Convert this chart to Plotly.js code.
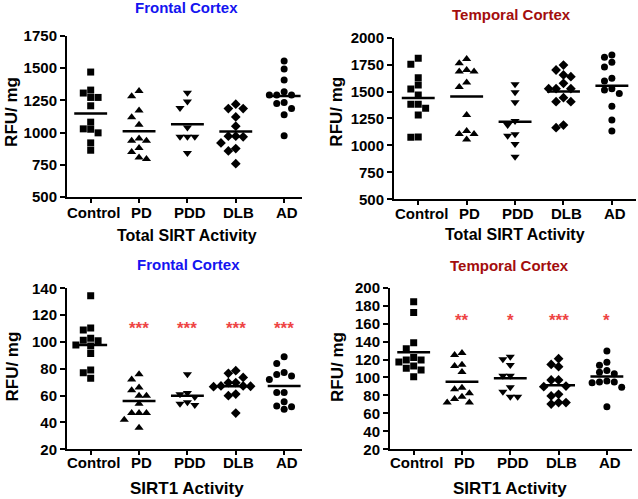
<!DOCTYPE html>
<html>
<head>
<meta charset="utf-8">
<script src="https://cdn.plot.ly/plotly-3.0.1.min.js"></script>
<style>
  html, body { margin: 0; padding: 0; background: #fff; }
  #plot { width: 638px; height: 499px; }
</style>
</head>
<body>
<div id="plot"></div>
<script>
// Groups and their markers
var groups = ['Control', 'PD', 'PDD', 'DLB', 'AD'];
var symbols = ['square', 'triangle-up', 'triangle-down', 'diamond', 'circle'];

// Frontal cortex, total SIRT activity (RFU/mg)
var ftControl = [1470, 1330, 1307, 1273, 1273, 1208, 1081, 1026, 1029, 998, 920, 863];
var ftPD = [1322, 1283, 1172, 1120, 1060, 954, 936, 936, 881, 850, 796, 806];
var ftPDD = [1309, 1242, 1190, 1039, 967, 967, 967, 842];
var ftDLB = [1221, 1187, 1187, 1122, 1050, 972, 972, 967, 920, 876, 858, 759];
var ftAD = [1555, 1493, 1408, 1317, 1291, 1291, 1291, 1234, 1226, 1187, 1138, 975];

// Temporal cortex, total SIRT activity
var ttControl = [1808, 1753, 1629, 1561, 1524, 1468, 1381, 1381, 1344, 1282, 1075, 1078];
var ttPD = [1802, 1762, 1700, 1685, 1685, 1585, 1542, 1282, 1134, 1106, 1106, 1056];
var ttPDD = [1567, 1493, 1400, 1227, 1189, 1090, 1103, 1013, 896];
var ttDLB = [1746, 1700, 1654, 1638, 1576, 1527, 1527, 1527, 1443, 1406, 1406, 1189, 1165];
var ttAD = [1839, 1818, 1771, 1728, 1623, 1598, 1527, 1514, 1483, 1363, 1236, 1134];

// Frontal cortex, SIRT1 activity
var fsControl = [134.5, 110.4, 108.9, 102.7, 101.2, 101.0, 97.7, 97, 91.5, 79.1, 77.1, 72.9];
var fsPD = [76, 72, 66, 64, 60, 60, 54, 47, 47, 47, 42, 36];
var fsPDD = [76, 62, 61, 59, 55, 54, 53];
var fsDLB = [78.6, 76.6, 73.6, 69.7, 69.7, 67.2, 67.2, 67, 66.7, 61.2, 60, 47];
var fsAD = [88.9, 84, 77.3, 75.8, 74.6, 72.1, 62.4, 62.4, 55.5, 52.2, 51.7, 49.8];

// Temporal cortex, SIRT1 activity
var tsControl = [184.4, 172.5, 138.8, 132.1, 122.4, 119.5, 119.5, 117.2, 112.8, 110.2, 108.3, 100.9];
var tsPD = [127.2, 125, 114.3, 112.8, 106.1, 88.6, 86.8, 82.3, 78.6, 76, 72, 72];
var tsPDD = [123.2, 120.2, 113.9, 102, 102, 89, 84.2, 78.6, 78.6];
var tsDLB = [120.9, 114.6, 112, 97.2, 97.2, 90.5, 89.8, 81.2, 79.4, 72, 72, 70.4];
var tsAD = [129.5, 116.9, 113.5, 107.9, 105.7, 104.2, 96.1, 94.9, 94.9, 94.2, 89, 67.5];

// Significance marks vs control
var fsStars = ['', '***', '***', '***', '***'];
var tsStars = ['', '**', '*', '***', '*'];

var W = 638, H = 499;
var FONT = 'Liberation Sans, Arial, sans-serif';
var BLUE = '#1414f0', DARKRED = '#a30d0d', STAR = '#ee4444';

var panels = [
  {sets: [ftControl, ftPD, ftPDD, ftDLB, ftAD], xd: [0.105, 0.4734], yd: [0.6052, 0.9279],
   xr: [-0.49, 4.37], yr: [500, 1750], dt: 250, title: 'Frontal Cortex', tc: BLUE, catGap: 15,
   xt: 'Total SIRT Activity', xts: 16, tpos: [0.293, 0.984], xpos: [0.293, 0.529], ypos: [0.019, 0.776]},
  {sets: [ttControl, ttPD, ttPDD, ttDLB, ttAD], xd: [0.6176, 0.997], yd: [0.6006, 0.9245],
   xr: [-0.50, 4.50], yr: [500, 2000], dt: 250, title: 'Temporal Cortex', tc: DARKRED, catGap: 14,
   xt: 'Total SIRT Activity', xts: 16, tpos: [0.801, 0.970], xpos: [0.807, 0.531], ypos: [0.528, 0.776]},
  {sets: [fsControl, fsPD, fsPDD, fsDLB, fsAD], xd: [0.105, 0.4734], yd: [0.0996, 0.4222],
   xr: [-0.49, 4.37], yr: [20, 140], dt: 20, title: 'Frontal Cortex', tc: BLUE, catGap: 13,
   xt: 'SIRT1 Activity', xts: 17, tpos: [0.295, 0.469], xpos: [0.293, 0.022], ypos: [0.02, 0.265],
   stars: fsStars, starY: 110},
  {sets: [tsControl, tsPD, tsPDD, tsDLB, tsAD], xd: [0.6113, 0.9906], yd: [0.0996, 0.4234],
   xr: [-0.49, 4.52], yr: [20, 200], dt: 20, title: 'Temporal Cortex', tc: DARKRED, catGap: 13,
   xt: 'SIRT1 Activity', xts: 17, tpos: [0.799, 0.467], xpos: [0.799, 0.022], ypos: [0.530, 0.265],
   stars: tsStars, starY: 163}
];

// simple beeswarm: spread points sideways so they do not overlap
function swarm(vals, pxX, pxY) {
  var step = 7.4, minD = 7.0;
  var idx = vals.map(function (v, i) { return i; });
  idx.sort(function (a, b) { return vals[b] - vals[a]; });
  var placed = [], off = new Array(vals.length);
  var order = [0, -1, 1, -2, 2, -3, 3];
  idx.forEach(function (i) {
    for (var k = 0; k < order.length; k++) {
      var ox = order[k] * step;
      var ok = placed.every(function (p) {
        var dx = ox - p[0], dy = (vals[i] - p[1]) * pxY;
        return Math.sqrt(dx * dx + dy * dy) >= minD;
      });
      if (ok || k === order.length - 1) {
        placed.push([ox, vals[i]]);
        off[i] = ox / pxX;
        break;
      }
    }
  });
  return off;
}

var data = [];
var layout = {
  width: W, height: H,
  margin: {l: 0, r: 0, t: 0, b: 0},
  paper_bgcolor: '#fff', plot_bgcolor: '#fff',
  showlegend: false,
  font: {family: FONT, color: '#000'},
  annotations: []
};

function label(x, y, text, font, angle) {
  layout.annotations.push({
    xref: 'paper', yref: 'paper', x: x, y: y,
    xanchor: 'center', yanchor: 'middle',
    text: text, showarrow: false, textangle: angle || 0, font: font
  });
}

panels.forEach(function (p, n) {
  var ax = n === 0 ? '' : String(n + 1);
  var pxX = (p.xd[1] - p.xd[0]) * W / (p.xr[1] - p.xr[0]);
  var pxY = (p.yd[1] - p.yd[0]) * H / (p.yr[1] - p.yr[0]);

  p.sets.forEach(function (vals, g) {
    var off = swarm(vals, pxX, pxY);
    data.push({
      x: vals.map(function (v, i) { return g + off[i]; }),
      y: vals,
      type: 'scatter', mode: 'markers',
      xaxis: 'x' + ax, yaxis: 'y' + ax,
      marker: {symbol: symbols[g], color: '#000', size: [7, 8, 8, 7.5, 7][g], line: {width: 0}},
      hoverinfo: 'y'
    });
    var mean = vals.reduce(function (a, b) { return a + b; }, 0) / vals.length;
    data.push({
      x: [g - 0.34, g + 0.34], y: [mean, mean],
      type: 'scatter', mode: 'lines',
      xaxis: 'x' + ax, yaxis: 'y' + ax,
      line: {color: '#000', width: 2.5},
      hoverinfo: 'skip'
    });
    if (p.stars && p.stars[g]) {
      layout.annotations.push({
        xref: 'x' + ax, yref: 'y' + ax, x: g, y: p.starY,
        xanchor: 'center', yanchor: 'middle',
        text: p.stars[g], showarrow: false,
        font: {family: FONT, size: 17, color: STAR, weight: 'bold'}
      });
    }
    // category label under its tick
    layout.annotations.push({
      xref: 'x' + ax, yref: 'paper', x: g + 0.06, y: p.yd[0] - p.catGap / H,
      xanchor: 'center', yanchor: 'middle',
      text: groups[g], showarrow: false,
      font: {family: FONT, size: 15, color: '#000', weight: 'bold'}
    });
  });

  layout['xaxis' + ax] = {
    domain: p.xd, range: p.xr, anchor: 'y' + ax,
    tickmode: 'array', tickvals: [0, 1, 2, 3, 4], showticklabels: false,
    showgrid: false, zeroline: false,
    showline: true, linecolor: '#000', linewidth: 2,
    ticks: 'outside', ticklen: 4, tickwidth: 2, tickcolor: '#000'
  };
  layout['yaxis' + ax] = {
    domain: p.yd, range: p.yr, anchor: 'x' + ax,
    tick0: p.yr[0], dtick: p.dt,
    showgrid: false, zeroline: false,
    showline: true, linecolor: '#000', linewidth: 2,
    ticks: 'outside', ticklen: 5, tickwidth: 2, tickcolor: '#000',
    tickfont: {family: FONT, size: 15, color: '#000', weight: 'bold'}
  };

  label(p.tpos[0], p.tpos[1], p.title, {family: FONT, size: 15, color: p.tc, weight: 'bold'});
  label(p.xpos[0], p.xpos[1], p.xt, {family: FONT, size: p.xts, color: '#000', weight: 'bold'});
  label(p.ypos[0], p.ypos[1], 'RFU/ mg', {family: FONT, size: 17, color: '#000', weight: 'bold'}, -90);
});

Plotly.newPlot('plot', data, layout, {displayModeBar: false, staticPlot: true});
</script>
</body>
</html>
